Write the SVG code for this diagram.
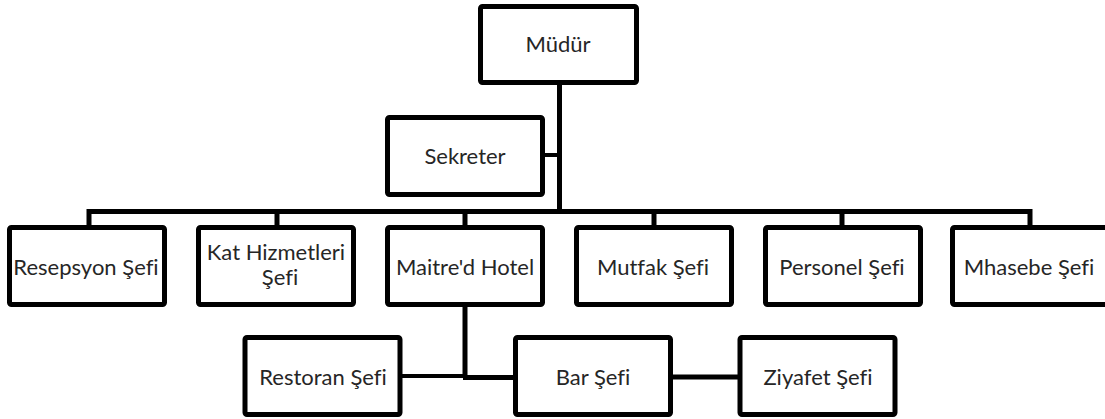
<svg xmlns="http://www.w3.org/2000/svg" width="1105" height="419" viewBox="0 0 1105 419">
<style>
.box{fill:#fff;stroke:#000;stroke-width:5;stroke-linejoin:round}
.lbl{font-family:Lato,"Open Sans",sans-serif;font-size:22px;fill:#262626;text-anchor:middle;font-variant-ligatures:none;font-feature-settings:"liga" 0}
.ln{fill:none;stroke:#000;stroke-width:5;stroke-linejoin:miter}
</style>
<rect width="1105" height="419" fill="#fff"/>
<g id="connectors">
<path class="ln" d="M559.5 85 V211.5"/>
<path class="ln" d="M545 155 H559.5" style="stroke-width:4"/>
<path class="ln" d="M89 225 V211.5 H1030 V225"/>
<path class="ln" d="M277 211.5 V225 M465 211.5 V225 M654 211.5 V225 M842 211.5 V225"/>
<path class="ln" d="M465 307 V378"/>
<path class="ln" d="M402 376 H465" style="stroke-width:4"/>
<path class="ln" d="M463 377.5 H514"/>
<path class="ln" d="M673 377 H738"/>
</g>
<g id="mudur"><rect class="box" x="480.5" y="6.5" width="156" height="76" rx="2"/><text class="lbl" x="558" y="52">Müdür</text></g>
<g id="sekreter"><rect class="box" x="387.5" y="117.5" width="155" height="77" rx="2"/><text class="lbl" x="465" y="164">Sekreter</text></g>
<g id="resepsyon"><rect class="box" x="9.5" y="227.5" width="155" height="77" rx="2"/><text class="lbl" x="86" y="275">Resepsyon Şefi</text></g>
<g id="kat"><rect class="box" x="198.5" y="227.5" width="155" height="77" rx="2"/><text class="lbl" x="276" y="260">Kat Hizmetleri</text><text class="lbl" x="280" y="285">Şefi</text></g>
<g id="maitre"><rect class="box" x="387.5" y="227.5" width="155" height="77" rx="2"/><text class="lbl" x="465" y="275">Maitre'd Hotel</text></g>
<g id="mutfak"><rect class="box" x="576.5" y="227.5" width="155" height="77" rx="2"/><text class="lbl" x="653" y="275">Mutfak Şefi</text></g>
<g id="personel"><rect class="box" x="765.5" y="227.5" width="155" height="77" rx="2"/><text class="lbl" x="842" y="275">Personel Şefi</text></g>
<g id="mhasebe"><rect class="box" x="952.5" y="227.5" width="160" height="77" rx="2"/><text class="lbl" x="1029" y="275">Mhasebe Şefi</text></g>
<g id="restoran"><rect class="box" x="245" y="337.5" width="155" height="77" rx="2"/><text class="lbl" x="323" y="385">Restoran Şefi</text></g>
<g id="bar"><rect class="box" x="515.5" y="337.5" width="155" height="77" rx="2"/><text class="lbl" x="593" y="385">Bar Şefi</text></g>
<g id="ziyafet"><rect class="box" x="740" y="337.5" width="155" height="77" rx="2"/><text class="lbl" x="818" y="385">Ziyafet Şefi</text></g>
</svg>
